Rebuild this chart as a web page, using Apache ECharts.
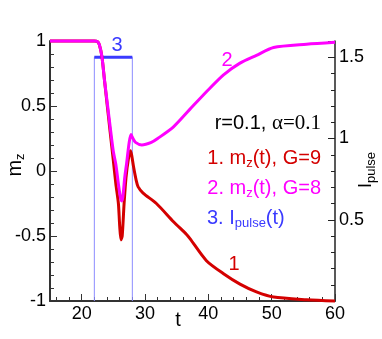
<!DOCTYPE html>
<html>
<head>
<meta charset="utf-8">
<script src="https://cdn.jsdelivr.net/npm/echarts@6.0.0/dist/echarts.min.js"></script>
<style>
html, body { margin: 0; padding: 0; background: #fff; }
#main { width: 382px; height: 339px; }
</style>
</head>
<body>
<div id="main"></div>
<script>
// curve 1: m_z(t), G=9
var tG9 = [15, 22, 22.5, 22.8, 23.2, 23.6, 24.0, 24.5, 25.0, 25.4, 25.8, 26.0, 26.2, 26.4, 26.7, 27.0, 27.4, 27.7, 27.9, 28.2, 28.6, 28.9, 29.7, 31.8, 34.5, 36.6, 37.1, 39.7, 42.4, 45, 47.6, 50.3, 55.5, 60]
var mG9 = [1, 1, 0.995, 0.97, 0.88, 0.7, 0.52, 0.3, 0.08, -0.1, -0.25, -0.42, -0.53, -0.5, -0.25, -0.05, 0.1, 0.155, 0.12, 0.03, -0.07, -0.12, -0.17, -0.25, -0.39, -0.49, -0.52, -0.69, -0.79, -0.87, -0.93, -0.97, -0.99, -1]
// curve 2: m_z(t), G=8
var tG8 = [15, 22, 22.5, 22.8, 23.2, 23.6, 24.1, 24.6, 25.0, 25.4, 25.8, 26.1, 26.3, 26.5, 26.8, 27.1, 27.5, 27.8, 28.1, 28.5, 29.5, 31, 32, 34.5, 37, 39.7, 42.4, 45, 47.6, 50.3, 55.5, 60]
var mG8 = [1, 1, 0.995, 0.97, 0.88, 0.7, 0.5, 0.3, 0.15, 0.05, -0.1, -0.2, -0.23, -0.2, -0.05, 0.06, 0.22, 0.28, 0.25, 0.22, 0.2, 0.22, 0.25, 0.34, 0.47, 0.61, 0.74, 0.83, 0.89, 0.95, 0.975, 0.99]
// curve 3: I_pulse(t), rectangular pulse
var pulseT = [22, 22, 28, 28]
var pulseI = [0, 1.5, 1.5, 0]
var pulseTopT = [22, 28]
var pulseTopI = [1.5, 1.5]

var xLabels = [20, 30, 40, 50, 60]
var xMinor = [16, 18, 22, 24, 26, 28, 32, 34, 36, 38, 42, 44, 46, 48, 52, 54, 56, 58]

function pairs(xs, ys) {
  var out = []
  for (var i = 0; i < xs.length; i++) {
    out.push([xs[i], ys[i]])
  }
  return out
}

var font = "'Liberation Sans', Arial, sans-serif"
var red = '#d40000'
var mag = '#ff00ff'
var blue = '#3a3aff'

var chart = echarts.init(document.getElementById('main'))
chart.setOption({
  animation: false,
  grid: { left: 50, right: 47, top: 41, bottom: 38 },
  xAxis: [
    {
      type: 'value', min: 15, max: 60, position: 'bottom',
      axisLine: { onZero: false, lineStyle: { color: '#333', width: 2 } },
      axisTick: { inside: true, length: 4, customValues: xMinor, lineStyle: { color: '#333' } },
      axisLabel: { customValues: xLabels, fontSize: 18, color: '#000', fontFamily: font, margin: 4 },
      splitLine: { show: false }
    },
    {
      type: 'value', min: 15, max: 60, position: 'bottom',
      axisLine: { show: false, onZero: false },
      axisTick: { inside: true, length: 7, customValues: xLabels, lineStyle: { color: '#333' } },
      axisLabel: { show: false },
      splitLine: { show: false }
    }
  ],
  yAxis: [
    {
      type: 'value', min: -1, max: 1, interval: 0.5, position: 'left',
      axisLine: { show: true, onZero: false, lineStyle: { color: '#333', width: 2 } },
      axisTick: { show: true, inside: true, length: 7, lineStyle: { color: '#333' } },
      minorTick: { show: true, splitNumber: 5, length: 4, lineStyle: { color: '#333' } },
      axisLabel: { fontSize: 18, color: '#000', fontFamily: font, margin: 4 },
      splitLine: { show: false }
    },
    {
      type: 'value', min: 0, max: 1.6, interval: 0.5, position: 'right',
      axisLine: { show: true, onZero: false, lineStyle: { color: '#222', width: 1.5 } },
      axisTick: { show: true, inside: true, length: 7, lineStyle: { color: '#222' } },
      minorTick: { show: true, splitNumber: 5, length: 4, lineStyle: { color: '#222' } },
      axisLabel: {
        fontSize: 18, color: '#000', fontFamily: font, margin: 4,
        showMinLabel: false, showMaxLabel: false,
        formatter: function(v) { return v === 0 || v > 1.55 ? '' : String(v) }
      },
      splitLine: { show: false }
    }
  ],
  series: [
    {
      name: 'pulse', type: 'line', yAxisIndex: 1, data: pairs(pulseT, pulseI),
      showSymbol: false, lineStyle: { color: '#8c8cff', width: 1 }, clip: false, z: 1
    },
    {
      name: 'pulseTop', type: 'line', yAxisIndex: 1, data: pairs(pulseTopT, pulseTopI),
      showSymbol: false, lineStyle: { color: blue, width: 3 }, clip: false, z: 2
    },
    {
      name: 'G=9', type: 'line', data: pairs(tG9, mG9), showSymbol: false,
      smooth: 0.25, lineStyle: { color: red, width: 3 }, clip: false, z: 3
    },
    {
      name: 'G=8', type: 'line', data: pairs(tG8, mG8), showSymbol: false,
      smooth: 0.25, lineStyle: { color: mag, width: 3 }, clip: false, z: 4
    }
  ],
  graphic: [
    { type: 'text', x: 117, y: 45, style: { text: '3', fill: blue, font: '20px ' + font, align: 'center', verticalAlign: 'middle' } },
    { type: 'text', x: 227, y: 60, style: { text: '2', fill: mag, font: '20px ' + font, align: 'center', verticalAlign: 'middle' } },
    { type: 'text', x: 234, y: 264, style: { text: '1', fill: red, font: '20px ' + font, align: 'center', verticalAlign: 'middle' } },
    { type: 'text', x: 321, y: 123, style: {
      text: 'r=0.1, {g|α=0.1}', fill: '#000', font: '20px ' + font, align: 'right', verticalAlign: 'middle',
      rich: { g: { fontFamily: "'Liberation Serif', serif", fontSize: 21, fill: '#000' } }
    } },
    { type: 'text', x: 321, y: 158, style: {
      text: '1. m{s|z}(t), G=9', fill: red, font: '20px ' + font, align: 'right', verticalAlign: 'middle',
      rich: { s: { fontSize: 13, fill: red, padding: [10, 0, 0, 0] } }
    } },
    { type: 'text', x: 321, y: 188, style: {
      text: '2. m{s|z}(t), G=8', fill: mag, font: '20px ' + font, align: 'right', verticalAlign: 'middle',
      rich: { s: { fontSize: 13, fill: mag, padding: [10, 0, 0, 0] } }
    } },
    { type: 'text', x: 207, y: 218, style: {
      text: '3. I{s|pulse}(t)', fill: blue, font: '20px ' + font, align: 'left', verticalAlign: 'middle',
      rich: { s: { fontSize: 13, fill: blue, padding: [10, 0, 0, 0] } }
    } },
    { type: 'text', x: 178, y: 320, style: { text: 't', fill: '#000', font: '20px ' + font, align: 'center', verticalAlign: 'middle' } },
    { type: 'text', x: 15, y: 165, rotation: Math.PI / 2, style: {
      text: 'm{s|z}', fill: '#000', font: '20px ' + font, align: 'center', verticalAlign: 'middle',
      rich: { s: { fontSize: 13, fill: '#000', padding: [10, 0, 0, 0] } }
    } },
    { type: 'text', x: 366, y: 170, rotation: Math.PI / 2, style: {
      text: 'I{s|pulse}', fill: '#000', font: '18px ' + font, align: 'center', verticalAlign: 'middle',
      rich: { s: { fontSize: 13, fill: '#000', padding: [10, 0, 0, 0] } }
    } }
  ]
})
</script>
</body>
</html>
